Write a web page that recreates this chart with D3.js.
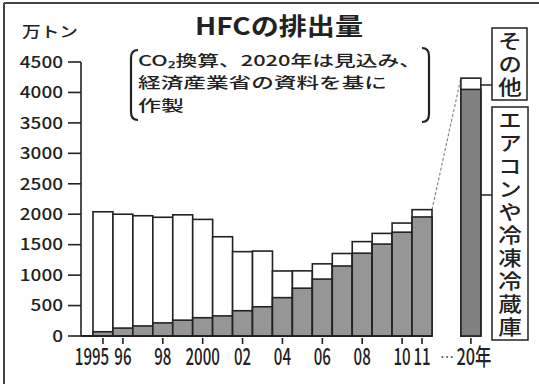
<!DOCTYPE html>
<html>
<head>
<meta charset="utf-8">
<script src="https://cdn.jsdelivr.net/npm/d3@7"></script>
<style>
  html, body { margin: 0; padding: 0; background: #fff; }
  svg { display: block; }
  text { font-family: "Noto Sans CJK JP", "Noto Sans", sans-serif; fill: #222; }
</style>
</head>
<body>
<svg id="chart" width="539" height="384"></svg>
<script>
// ---- data ----
const years = ["1995","1996","1997","1998","1999","2000","2001","2002","2003","2004","2005","2006","2007","2008","2009","2010","2011","2020"];
const totalValues = [2040, 2000, 1975, 1950, 1990, 1915, 1630, 1385, 1395, 1068, 1070, 1185, 1355, 1550, 1685, 1855, 2075, 4235];
const airconValues = [70, 130, 165, 215, 260, 300, 330, 415, 480, 630, 785, 935, 1150, 1360, 1510, 1705, 1955, 4050];
const yTicks = [0, 500, 1000, 1500, 2000, 2500, 3000, 3500, 4000, 4500];
const xTickYears = ["1995","1996","1998","2000","2002","2004","2006","2008","2010","2011","2020"];
const xTickLabels = ["1995","96","98","2000","02","04","06","08","10","11","20年"];
const title = "HFCの排出量";
const noteLines = ["CO₂換算、2020年は見込み、", "経済産業省の資料を基に", "作製"];
const unitLabel = "万トン";
const legendOther = "その他";
const legendAircon = "エアコンや冷凍冷蔵庫";

// ---- layout ----
const svg = d3.select("#chart");
const y = d3.scaleLinear().domain([0, 4500]).range([336, 62]);
const gapSlots = 1.45;
const slotIndex = d => { const i = years.indexOf(d); return i < 17 ? i : 17 + gapSlots; };
const xIdx = d3.scaleLinear().domain([0, 17]).range([93, 432]);
const bw = xIdx(1) - xIdx(0);
const xLeft = d => xIdx(slotIndex(d));
const xCenter = d => xLeft(d) + bw / 2;

const data = years.map((yr, i) => ({ year: yr, total: totalValues[i], aircon: airconValues[i] }));

// frame (left & top)
svg.append("line").attr("x1", 4).attr("x2", 4).attr("y1", 3).attr("y2", 384)
  .attr("stroke", "#444").attr("stroke-width", 2);
svg.append("line").attr("x1", 4).attr("x2", 539).attr("y1", 3).attr("y2", 3)
  .attr("stroke", "#444").attr("stroke-width", 2);

// title
svg.append("text").attr("x", 195).attr("y", 35).attr("font-size", 24).attr("font-weight", "bold")
  .attr("textLength", 168).attr("lengthAdjust", "spacingAndGlyphs").text(title);

// note lines
const noteBase = [66, 88, 111];
const noteLen = [283, 249, 46];
noteLines.forEach((t, i) => {
  svg.append("text").attr("x", 138).attr("y", noteBase[i]).attr("font-size", 15).attr("font-weight", 500)
    .attr("textLength", noteLen[i]).attr("lengthAdjust", "spacingAndGlyphs").text(t);
});
// brackets
svg.append("path").attr("d", "M138,50 Q131,50 131,58 L131,112 Q131,120 138,120")
  .attr("fill", "none").attr("stroke", "#222").attr("stroke-width", 2.2);
svg.append("path").attr("d", "M422,48 Q429,48 429,56 L429,114 Q429,122 422,122")
  .attr("fill", "none").attr("stroke", "#222").attr("stroke-width", 2.2);

// unit label
svg.append("text").attr("x", 22).attr("y", 37).attr("font-size", 15).attr("font-weight", 500)
  .attr("textLength", 56).attr("lengthAdjust", "spacingAndGlyphs").text(unitLabel);

// y axis
const yAxisG = svg.append("g");
yAxisG.append("line").attr("x1", 81).attr("x2", 81).attr("y1", y(4500)).attr("y2", y(0))
  .attr("stroke", "#222").attr("stroke-width", 1.6);
yTicks.forEach(v => {
  yAxisG.append("line").attr("x1", 68).attr("x2", 81).attr("y1", y(v)).attr("y2", y(v))
    .attr("stroke", "#222").attr("stroke-width", 1.6);
  const s = String(v);
  yAxisG.append("text").attr("x", 63).attr("y", y(v)).attr("dy", "0.36em")
    .attr("text-anchor", "end").attr("font-size", 16).attr("font-weight", 500)
    .attr("textLength", s.length * 10.8).attr("lengthAdjust", "spacingAndGlyphs").text(s);
});

// dashed connector from 2011 to 2020
svg.append("line")
  .attr("x1", xLeft("2011") + bw).attr("y1", y(totalValues[16]))
  .attr("x2", xLeft("2020")).attr("y2", y(totalValues[17]))
  .attr("stroke", "#888").attr("stroke-width", 1.2).attr("stroke-dasharray", "3,2");

// bars
const bars = svg.append("g").selectAll("g").data(data).join("g");
bars.append("rect")
  .attr("x", d => xLeft(d.year)).attr("width", bw)
  .attr("y", d => y(d.total)).attr("height", d => y(0) - y(d.total))
  .attr("fill", "#fff").attr("stroke", "#222").attr("stroke-width", 1.6);
bars.append("rect")
  .attr("x", d => xLeft(d.year)).attr("width", bw)
  .attr("y", d => y(d.aircon)).attr("height", d => y(0) - y(d.aircon))
  .attr("fill", d => d.year === "2020" ? "#808080" : "#969696")
  .attr("stroke", "#222").attr("stroke-width", 1.6);

// baseline
svg.append("line").attr("x1", 81).attr("x2", xLeft("2011") + bw).attr("y1", y(0)).attr("y2", y(0))
  .attr("stroke", "#222").attr("stroke-width", 1.8);

// x ticks & labels (condensed digits via horizontal scale)
xTickYears.forEach((yr, i) => {
  const cx = xCenter(yr);
  svg.append("line").attr("x1", cx).attr("x2", cx).attr("y1", 338).attr("y2", 344)
    .attr("stroke", "#222").attr("stroke-width", 1.6);
  const lab = xTickLabels[i];
  let lx = cx;
  if (yr === "1995") lx = cx - 11;
  if (yr === "2020") lx = cx + 3;
  const target = yr === "2020" ? 35 : lab.length * 8.6;
  const g = svg.append("g").attr("transform", `translate(${lx},365)`);
  const t = g.append("text").attr("x", 0).attr("y", 0).attr("text-anchor", "middle")
    .attr("font-size", 23).attr("font-weight", 500).text(lab);
  const natural = t.node().getComputedTextLength();
  g.attr("transform", `translate(${lx},365) scale(${target / natural},1)`);
});
svg.append("text").attr("x", 447).attr("y", 362).attr("text-anchor", "middle")
  .attr("font-size", 14).text("…");

// legend boxes
const xr = xLeft("2020") + bw;
svg.append("rect").attr("x", 492).attr("y", 28).attr("width", 35).attr("height", 72)
  .attr("fill", "#fff").attr("stroke", "#222").attr("stroke-width", 1.5);
svg.append("line").attr("x1", xr).attr("x2", 492).attr("y1", 85).attr("y2", 85)
  .attr("stroke", "#222").attr("stroke-width", 1.5);
svg.append("rect").attr("x", 492).attr("y", 107).attr("width", 36).attr("height", 233)
  .attr("fill", "#fff").attr("stroke", "#222").attr("stroke-width", 1.5);
svg.append("line").attr("x1", xr).attr("x2", 492).attr("y1", 195).attr("y2", 195)
  .attr("stroke", "#222").attr("stroke-width", 1.5);

function vText(cx, cy, str, len) {
  svg.append("g").attr("transform", `translate(${cx},${cy}) scale(1.18,1)`)
    .append("text").attr("x", 0).attr("y", 0)
    .style("writing-mode", "vertical-rl")
    .attr("text-anchor", "middle").attr("font-size", 20).attr("font-weight", 500)
    .attr("textLength", len).attr("lengthAdjust", "spacing")
    .text(str);
}
vText(510, 64, legendOther, 66);
vText(510, 223.5, legendAircon, 227);
</script>
</body>
</html>
